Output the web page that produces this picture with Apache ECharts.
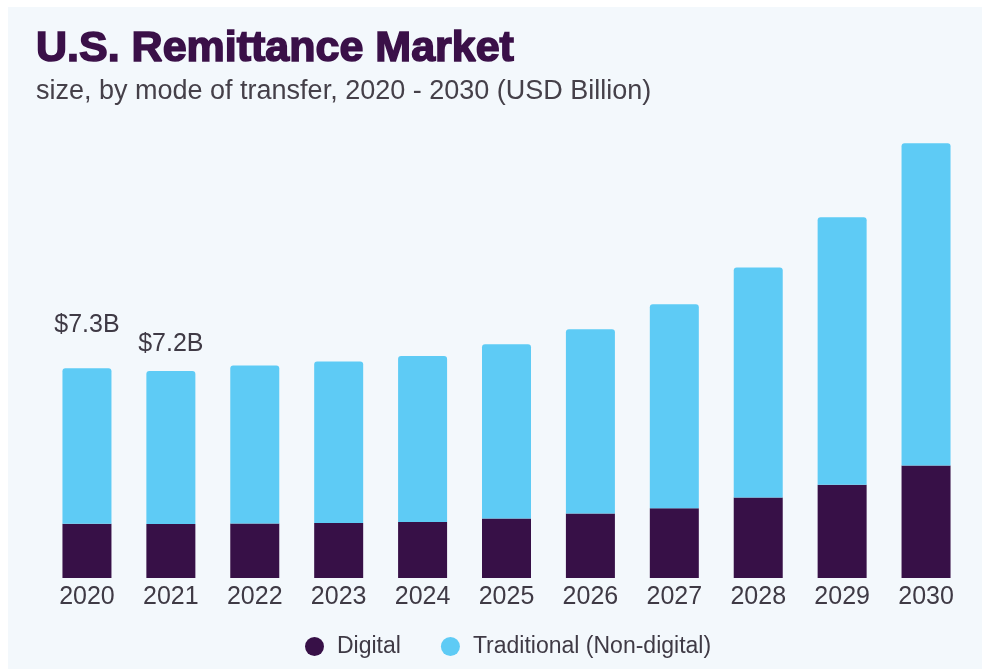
<!DOCTYPE html>
<html>
<head>
<meta charset="utf-8">
<script src="https://cdn.jsdelivr.net/npm/echarts@6/dist/echarts.min.js"></script>
<style>
  html, body { margin: 0; padding: 0; background: #ffffff; }
  #panel { position: absolute; left: 8px; top: 7px; width: 974px; height: 662px; background: #f3f8fc; }
  #chart { position: absolute; left: 0; top: 0; width: 982px; height: 669px; }
</style>
</head>
<body>
<div id="panel"></div>
<div id="chart"></div>
<script>
// U.S. remittance market size by mode of transfer (USD Billion)
const years = ['2020', '2021', '2022', '2023', '2024', '2025', '2026', '2027', '2028', '2029', '2030'];
const digital = [1.89, 1.88, 1.90, 1.91, 1.95, 2.07, 2.24, 2.43, 2.80, 3.24, 3.91];
const traditional = [5.41, 5.32, 5.49, 5.62, 5.77, 6.06, 6.41, 7.09, 8.00, 9.31, 11.21];
const totalLabels = ['$7.3B', '$7.2B', '', '', '', '', '', '', '', '', ''];
const labelGaps = [31, 14, 0, 0, 0, 0, 0, 0, 0, 0, 0];

const DARK = '#371047';
const LIGHT = '#5ecbf5';
const FONT = '"Liberation Sans", Arial, sans-serif';

const chart = echarts.init(document.getElementById('chart'), null, { renderer: 'canvas' });

const topData = traditional.map((v, i) => ({
  value: v,
  label: {
    show: totalLabels[i] !== '',
    position: 'top',
    distance: labelGaps[i],
    formatter: totalLabels[i],
    color: '#3f3a45',
    fontSize: 25,
    fontFamily: FONT
  }
}));

chart.setOption({
  backgroundColor: 'transparent',
  animation: false,
  title: [
    {
      text: 'U.S. Remittance Market',
      left: 31,
      top: 23,
      textStyle: {
        color: '#3a1048', fontSize: 43, fontWeight: 900, fontFamily: FONT,
        textBorderColor: '#3a1048', textBorderWidth: 1.6
      }
    },
    {
      text: 'size, by mode of transfer, 2020 - 2030 (USD Billion)',
      left: 31,
      top: 73,
      textStyle: { color: '#454049', fontSize: 27, fontWeight: 'normal', fontFamily: FONT }
    }
  ],
  legend: {
    left: 300,
    top: 630,
    icon: 'circle',
    itemWidth: 19,
    itemHeight: 19,
    itemGap: 40,
    textStyle: { color: '#3f3a45', fontSize: 23, fontFamily: FONT, padding: [0, 0, 0, 8] },
    data: ['Digital', 'Traditional (Non-digital)']
  },
  grid: { left: 45, right: 14, top: 118, bottom: 91, containLabel: false },
  xAxis: {
    type: 'category',
    data: years,
    axisLine: { show: false },
    axisTick: { show: false },
    axisLabel: { color: '#3f3a45', fontSize: 25, fontFamily: FONT, margin: 7 }
  },
  yAxis: {
    type: 'value',
    min: 0,
    max: 16,
    show: false,
    splitLine: { show: false }
  },
  series: [
    {
      name: 'Digital',
      type: 'bar',
      stack: 'total',
      barWidth: 49,
      itemStyle: { color: DARK },
      data: digital
    },
    {
      name: 'Traditional (Non-digital)',
      type: 'bar',
      stack: 'total',
      barWidth: 49,
      itemStyle: { color: LIGHT, borderRadius: [3, 3, 0, 0] },
      data: topData
    }
  ]
});
</script>
</body>
</html>
